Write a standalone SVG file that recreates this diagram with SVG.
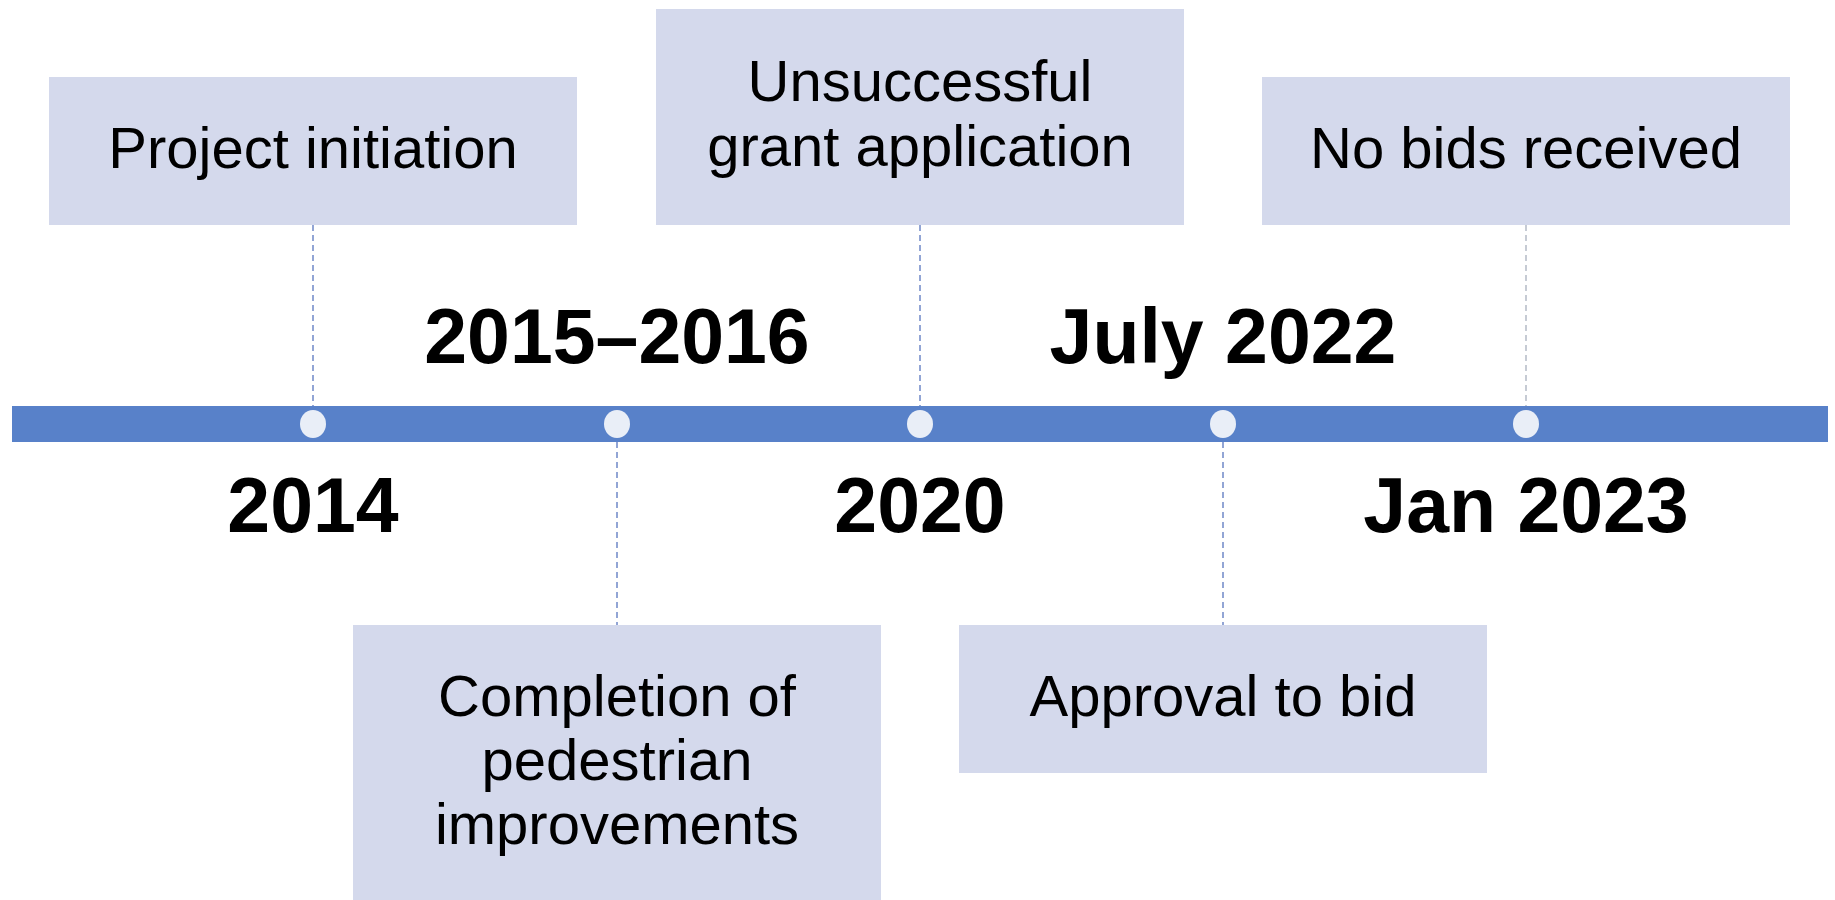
<svg xmlns="http://www.w3.org/2000/svg" width="1835" height="900" viewBox="0 0 1835 900">
<style>
.box{fill:#D4D9EC}
.lbl{font-family:"Liberation Sans",Arial,sans-serif;font-size:58px;fill:#000;text-anchor:middle}
.yr{font-family:"Liberation Sans",Arial,sans-serif;font-size:77px;font-weight:bold;fill:#000;text-anchor:middle}
.dash{stroke:#6F88C8;stroke-width:1.5;stroke-dasharray:6 4;fill:none}
.dot{fill:#E9EEF7}
</style>
<rect width="1835" height="900" fill="#fff"/>
<g id="connectors">
<line class="dash" x1="313" y1="225" x2="313" y2="406"/>
<line class="dash" x1="617" y1="442" x2="617" y2="625"/>
<line class="dash" x1="920" y1="225" x2="920" y2="406"/>
<line class="dash" x1="1223" y1="442" x2="1223" y2="625"/>
<line class="dash" x1="1526" y1="225" x2="1526" y2="406" style="stroke:#B4BAC6"/>
</g>
<g id="timeline">
<rect x="12" y="406" width="1816" height="36" fill="#5881C9"/>
<ellipse class="dot" cx="313" cy="424" rx="13" ry="14"/>
<ellipse class="dot" cx="617" cy="424" rx="13" ry="14"/>
<ellipse class="dot" cx="920" cy="424" rx="13" ry="14"/>
<ellipse class="dot" cx="1223" cy="424" rx="13" ry="14"/>
<ellipse class="dot" cx="1526" cy="424" rx="13" ry="14"/>
</g>
<g id="years">
<text class="yr" x="313" y="532">2014</text>
<text class="yr" x="617" y="363">2015–2016</text>
<text class="yr" x="920" y="532">2020</text>
<text class="yr" x="1223" y="363">July 2022</text>
<text class="yr" x="1526" y="532">Jan 2023</text>
</g>
<g id="node-project-initiation">
<rect class="box" x="49" y="77" width="528" height="148"/>
<text class="lbl" x="313" y="168">Project initiation</text>
</g>
<g id="node-unsuccessful-grant">
<rect class="box" x="656" y="9" width="528" height="216"/>
<text class="lbl" x="920" y="101">Unsuccessful</text>
<text class="lbl" x="920" y="166">grant application</text>
</g>
<g id="node-no-bids">
<rect class="box" x="1262" y="77" width="528" height="148"/>
<text class="lbl" x="1526" y="168">No bids received</text>
</g>
<g id="node-completion">
<rect class="box" x="353" y="625" width="528" height="275"/>
<text class="lbl" x="617" y="716">Completion of</text>
<text class="lbl" x="617" y="780">pedestrian</text>
<text class="lbl" x="617" y="844">improvements</text>
</g>
<g id="node-approval">
<rect class="box" x="959" y="625" width="528" height="148"/>
<text class="lbl" x="1223" y="716">Approval to bid</text>
</g>
</svg>
